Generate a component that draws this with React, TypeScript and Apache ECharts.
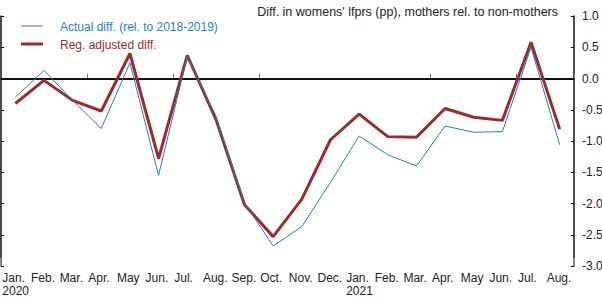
import React, { useEffect, useRef } from "react";
import * as echarts from "echarts";

const months = ["Jan.", "Feb.", "Mar.", "Apr.", "May", "Jun.", "Jul.", "Aug.", "Sep.", "Oct.", "Nov.", "Dec.", "Jan.", "Feb.", "Mar.", "Apr.", "May", "Jun.", "Jul.", "Aug."];
const years = ["2020", "", "", "", "", "", "", "", "", "", "", "", "2021", "", "", "", "", "", "", ""];
const actualDiff = [-0.3, 0.13, -0.35, -0.8, 0.25, -1.55, 0.35, -0.6, -1.99, -2.68, -2.37, -1.66, -0.92, -1.22, -1.4, -0.76, -0.86, -0.85, 0.5, -1.06];
const regAdjusted = [-0.4, -0.03, -0.35, -0.52, 0.4, -1.28, 0.37, -0.65, -2.02, -2.53, -1.93, -0.98, -0.57, -0.93, -0.94, -0.48, -0.62, -0.67, 0.58, -0.81];
const yTicks = [1.0, 0.5, 0.0, -0.5, -1.0, -1.5, -2.0, -2.5, -3.0];

const titleText = "Diff. in womens' lfprs (pp), mothers rel. to non-mothers";
const seriesNames = ["Actual diff. (rel. to 2018-2019)", "Reg. adjusted diff."];
const BLUE = "#1f7fd0";
const RED = "#9c2b2b";
const FONT = "Liberation Sans";

export default function App() {
  const ref = useRef<HTMLDivElement>(null);
  useEffect(() => {
    document.body.style.margin = "0";
    const chart = echarts.init(ref.current!, undefined, { renderer: "svg" });
    const grid = { left: 1, right: 28, top: 16, bottom: 34, containLabel: false, outerBoundsMode: "none" };
    const hiddenCat = (extra: any) => ({
      type: "category",
      data: months,
      boundaryGap: true,
      position: "bottom",
      axisLine: { show: false },
      axisLabel: { show: false },
      axisTick: { show: false },
      ...extra,
    });
    chart.setOption({
      animation: false,
      textStyle: { fontFamily: FONT },
      title: {
        text: titleText,
        right: 39,
        top: 0,
        textStyle: { fontSize: 12.5, fontWeight: "normal", color: "#222", fontFamily: FONT },
      },
      graphic: [
        { type: "line", shape: { x1: 21, y1: 26, x2: 43, y2: 26 }, style: { stroke: BLUE, lineWidth: 1 } },
        { type: "text", x: 60, y: 27, style: { text: seriesNames[0], fill: BLUE, font: `12px ${FONT}`, textVerticalAlign: "middle" } },
        { type: "line", shape: { x1: 21, y1: 44, x2: 43, y2: 44 }, style: { stroke: RED, lineWidth: 3 } },
        { type: "text", x: 60, y: 45, style: { text: seriesNames[1], fill: RED, font: `12px ${FONT}`, textVerticalAlign: "middle" } },
      ],
      grid,
      xAxis: [
        {
          type: "category",
          data: months,
          boundaryGap: true,
          axisLine: { lineStyle: { color: "#111", width: 1.5 } },
          axisTick: { inside: true, length: 3, lineStyle: { color: "#777" } },
          axisLabel: {
            interval: 0,
            fontSize: 12,
            color: "#222",
            margin: 6,
            fontFamily: FONT,
            align: "left",
            padding: [0, 0, 0, -13],
          },
        },
        hiddenCat({
          axisTick: {
            show: true,
            inside: true,
            length: 5,
            interval: (i: number) => i % 3 === 0 && i % 12 !== 0,
            lineStyle: { color: "#777" },
          },
        }),
        hiddenCat({
          axisTick: {
            show: true,
            inside: true,
            length: 8,
            interval: (i: number) => i === 12,
            lineStyle: { color: "#999", width: 1.5 },
          },
          axisLabel: {
            show: true,
            interval: 0,
            fontSize: 12,
            color: "#222",
            margin: 19,
            fontFamily: FONT,
            align: "left",
            padding: [0, 0, 0, -13],
            formatter: (_v: string, i: number) => years[i],
          },
        }),
      ],
      yAxis: [
        {
          type: "value",
          position: "right",
          min: -3,
          max: 1,
          interval: 0.5,
          splitLine: { show: false },
          axisLine: { show: true, lineStyle: { color: "#111", width: 1.5 } },
          axisTick: { show: true, inside: true, length: 3, lineStyle: { color: "#111" } },
          axisLabel: {
            fontSize: 12,
            color: "#222",
            margin: 8,
            fontFamily: FONT,
            formatter: (v: number) => {
              const t = yTicks.find((x) => Math.abs(x - v) < 1e-9);
              return (t !== undefined ? t : v).toFixed(1);
            },
          },
        },
        {
          type: "value",
          position: "left",
          min: -3,
          max: 1,
          interval: 0.5,
          splitLine: { show: false },
          axisLine: { show: true, lineStyle: { color: "#111", width: 1.5 } },
          axisTick: { show: true, inside: true, length: 3, lineStyle: { color: "#111" } },
          axisLabel: { show: false },
        },
      ],
      series: [
        {
          name: seriesNames[0],
          type: "line",
          data: actualDiff,
          symbol: "none",
          z: 3,
          lineStyle: { color: BLUE, width: 1 },
          itemStyle: { color: BLUE },
          markLine: {
            silent: true,
            symbol: "none",
            label: { show: false },
            lineStyle: { color: "#111", width: 2, type: "solid" },
            data: [{ yAxis: 0 }],
            z: 1,
          },
        },
        {
          name: seriesNames[1],
          type: "line",
          data: regAdjusted,
          symbol: "none",
          z: 2,
          lineStyle: { color: RED, width: 3 },
          itemStyle: { color: RED },
        },
      ],
    });
    return () => chart.dispose();
  }, []);
  return <div ref={ref} style={{ width: 602, height: 300 }} />;
}
